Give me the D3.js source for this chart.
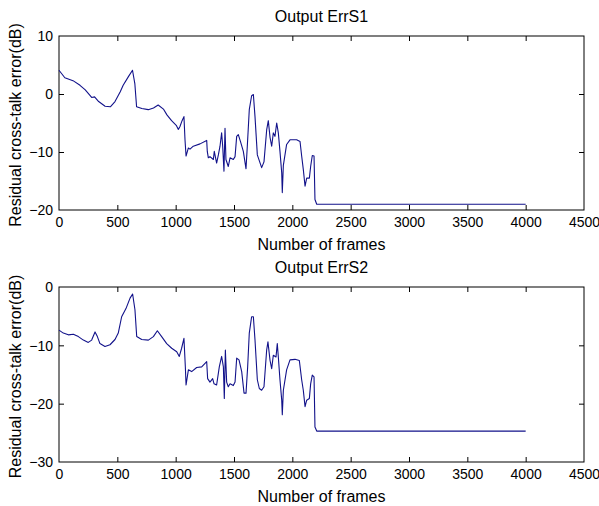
<!DOCTYPE html>
<html>
<head>
<meta charset="utf-8">
<script src="https://cdn.jsdelivr.net/npm/d3@7"></script>
<style>
  body { margin: 0; background: #fff; }
  svg { display: block; font-family: "Liberation Sans", Arial, sans-serif; }
</style>
</head>
<body>
<svg id="chart" width="599" height="506"></svg>
<script>
// frames and residual error (dB)
const s1Frames = [0, 50, 120, 180, 225, 280, 305, 340, 395, 440, 480, 525, 550, 595, 630, 650, 665, 710, 765, 810, 850, 895, 925, 965, 1005, 1023, 1037, 1055, 1071, 1080, 1089, 1109, 1123, 1151, 1209, 1266, 1271, 1280, 1294, 1323, 1331, 1351, 1366, 1380, 1394, 1403, 1414, 1423, 1431, 1451, 1466, 1494, 1509, 1523, 1537, 1557, 1580, 1603, 1614, 1631, 1651, 1666, 1680, 1700, 1737, 1757, 1780, 1794, 1809, 1823, 1837, 1851, 1866, 1880, 1894, 1909, 1914, 1923, 1951, 1980, 2037, 2066, 2080, 2094, 2109, 2123, 2146, 2157, 2171, 2186, 2194, 2209, 4000];
const s1Values = [4.1, 2.8, 2.3, 1.5, 0.7, -0.6, -0.5, -1.3, -2.1, -2.2, -1.3, 0.4, 1.5, 3.0, 4.1, 1.8, -2.2, -2.5, -2.7, -2.4, -1.9, -2.6, -3.6, -4.6, -5.4, -6.1, -5.6, -4.6, -3.9, -7.9, -10.7, -9.3, -9.5, -9.0, -8.6, -8.0, -9.9, -11.0, -10.8, -11.3, -9.9, -11.9, -10.5, -9.0, -6.7, -9.0, -13.3, -5.9, -11.3, -12.5, -11.0, -11.3, -10.8, -7.3, -7.0, -8.3, -9.9, -12.9, -9.0, -2.7, -0.3, -0.1, -3.9, -10.5, -12.7, -11.7, -6.2, -4.6, -7.5, -9.0, -6.7, -7.3, -5.0, -6.7, -9.9, -13.6, -17.0, -12.3, -8.7, -7.9, -7.9, -8.2, -10.7, -13.0, -15.9, -14.5, -14.5, -12.5, -10.6, -10.7, -18.2, -19.0, -19.0];

const s2Frames = [0, 37, 80, 123, 166, 209, 251, 280, 309, 329, 351, 394, 437, 480, 508, 537, 574, 609, 631, 651, 666, 709, 766, 809, 843, 880, 923, 966, 1009, 1031, 1051, 1071, 1083, 1089, 1109, 1137, 1180, 1223, 1266, 1274, 1294, 1317, 1329, 1351, 1374, 1394, 1409, 1417, 1426, 1437, 1451, 1466, 1494, 1509, 1523, 1543, 1566, 1586, 1603, 1617, 1631, 1651, 1666, 1680, 1700, 1717, 1737, 1757, 1780, 1791, 1809, 1823, 1837, 1860, 1871, 1880, 1894, 1909, 1914, 1923, 1951, 1980, 2023, 2060, 2080, 2094, 2109, 2123, 2146, 2157, 2171, 2186, 2194, 2209, 4000];
const s2Values = [-7.4, -7.9, -8.2, -8.1, -8.5, -9.1, -9.5, -9.1, -7.7, -8.5, -9.7, -10.2, -9.9, -9.0, -7.9, -5.1, -3.7, -1.9, -1.2, -3.9, -8.5, -9.0, -9.1, -8.5, -7.5, -8.5, -9.7, -10.5, -11.1, -11.9, -10.5, -8.8, -13.7, -16.8, -14.2, -14.5, -13.8, -13.7, -12.8, -15.7, -16.3, -15.7, -16.6, -16.8, -13.7, -11.9, -13.7, -19.1, -10.8, -16.3, -17.1, -16.6, -16.9, -16.3, -12.2, -12.5, -14.5, -18.2, -18.2, -13.7, -7.9, -5.1, -5.1, -9.1, -15.9, -17.4, -17.7, -17.1, -10.8, -9.4, -12.6, -14.0, -11.7, -12.0, -9.7, -12.0, -15.9, -19.4, -21.9, -17.7, -14.2, -12.5, -12.4, -12.6, -15.9, -17.7, -20.5, -19.4, -19.1, -16.6, -15.1, -15.4, -24.0, -24.7, -24.7];

const xTicks = [0, 500, 1000, 1500, 2000, 2500, 3000, 3500, 4000, 4500];
const panels = [
  { title: "Output ErrS1", frames: s1Frames, values: s1Values, domain: [-20, 10], yTicks: [-20, -10, 0, 10], top: 36, bottom: 210 },
  { title: "Output ErrS2", frames: s2Frames, values: s2Values, domain: [-30, 0], yTicks: [-30, -20, -10, 0], top: 287, bottom: 462 }
];

const svg = d3.select("#chart");
const left = 59, right = 584, tickLen = 5;

panels.forEach(p => {
  const x = d3.scaleLinear().domain([0, 4500]).range([left, right]);
  const y = d3.scaleLinear().domain(p.domain).range([p.bottom, p.top]);
  const g = svg.append("g");

  // inward ticks on all four sides, like matlab's box
  const tickStyle = a => a.tickSizeOuter(0).tickSizeInner(-tickLen);
  const bottomAxis = g.append("g").attr("transform", `translate(0,${p.bottom})`)
    .call(tickStyle(d3.axisBottom(x).tickValues(xTicks).tickFormat(d3.format("d"))));
  const topAxis = g.append("g").attr("transform", `translate(0,${p.top})`)
    .call(tickStyle(d3.axisTop(x).tickValues(xTicks).tickFormat("")));
  const leftAxis = g.append("g").attr("transform", `translate(${left},0)`)
    .call(tickStyle(d3.axisLeft(y).tickValues(p.yTicks).tickFormat(d3.format("d"))));
  const rightAxis = g.append("g").attr("transform", `translate(${right},0)`)
    .call(tickStyle(d3.axisRight(y).tickValues(p.yTicks).tickFormat("")));

  [bottomAxis, topAxis, leftAxis, rightAxis].forEach(a => {
    a.select(".domain").remove();
    a.selectAll("line").attr("stroke", "#000");
    a.selectAll("text").attr("fill", "#000").style("font-size", "14px");
  });
  bottomAxis.selectAll("text").attr("dy", "0.71em").attr("y", 7);
  leftAxis.selectAll("text").attr("x", -6).attr("dy", "0.35em");
  // the end ticks sit on the box edges
  bottomAxis.selectAll(".tick").filter(d => d === 0 || d === 4500).select("line").remove();
  topAxis.selectAll(".tick").filter(d => d === 0 || d === 4500).select("line").remove();
  leftAxis.selectAll(".tick").filter(d => d === p.domain[0] || d === p.domain[1]).select("line").remove();
  rightAxis.selectAll(".tick").filter(d => d === p.domain[0] || d === p.domain[1]).select("line").remove();

  g.append("rect")
    .attr("x", left).attr("y", p.top)
    .attr("width", right - left).attr("height", p.bottom - p.top)
    .attr("fill", "none").attr("stroke", "#000").attr("stroke-width", 1);

  const line = d3.line()
    .x((d, i) => x(p.frames[i]))
    .y(d => y(d));

  g.append("path")
    .datum(p.values)
    .attr("d", line)
    .attr("fill", "none")
    .attr("stroke", "#12128a")
    .attr("stroke-width", 1.1)
    .attr("stroke-linejoin", "round");

  g.append("text")
    .attr("x", (left + right) / 2).attr("y", p.top - 14)
    .attr("text-anchor", "middle")
    .style("font-size", "16px")
    .text(p.title);

  g.append("text")
    .attr("x", (left + right) / 2).attr("y", p.bottom + 40)
    .attr("text-anchor", "middle")
    .style("font-size", "16px")
    .text("Number of frames");

  g.append("text")
    .attr("transform", `translate(21,${(p.top + p.bottom) / 2 + 2}) rotate(-90)`)
    .attr("text-anchor", "middle")
    .style("font-size", "16px")
    .text("Residual cross-talk error(dB)");
});
</script>
</body>
</html>
